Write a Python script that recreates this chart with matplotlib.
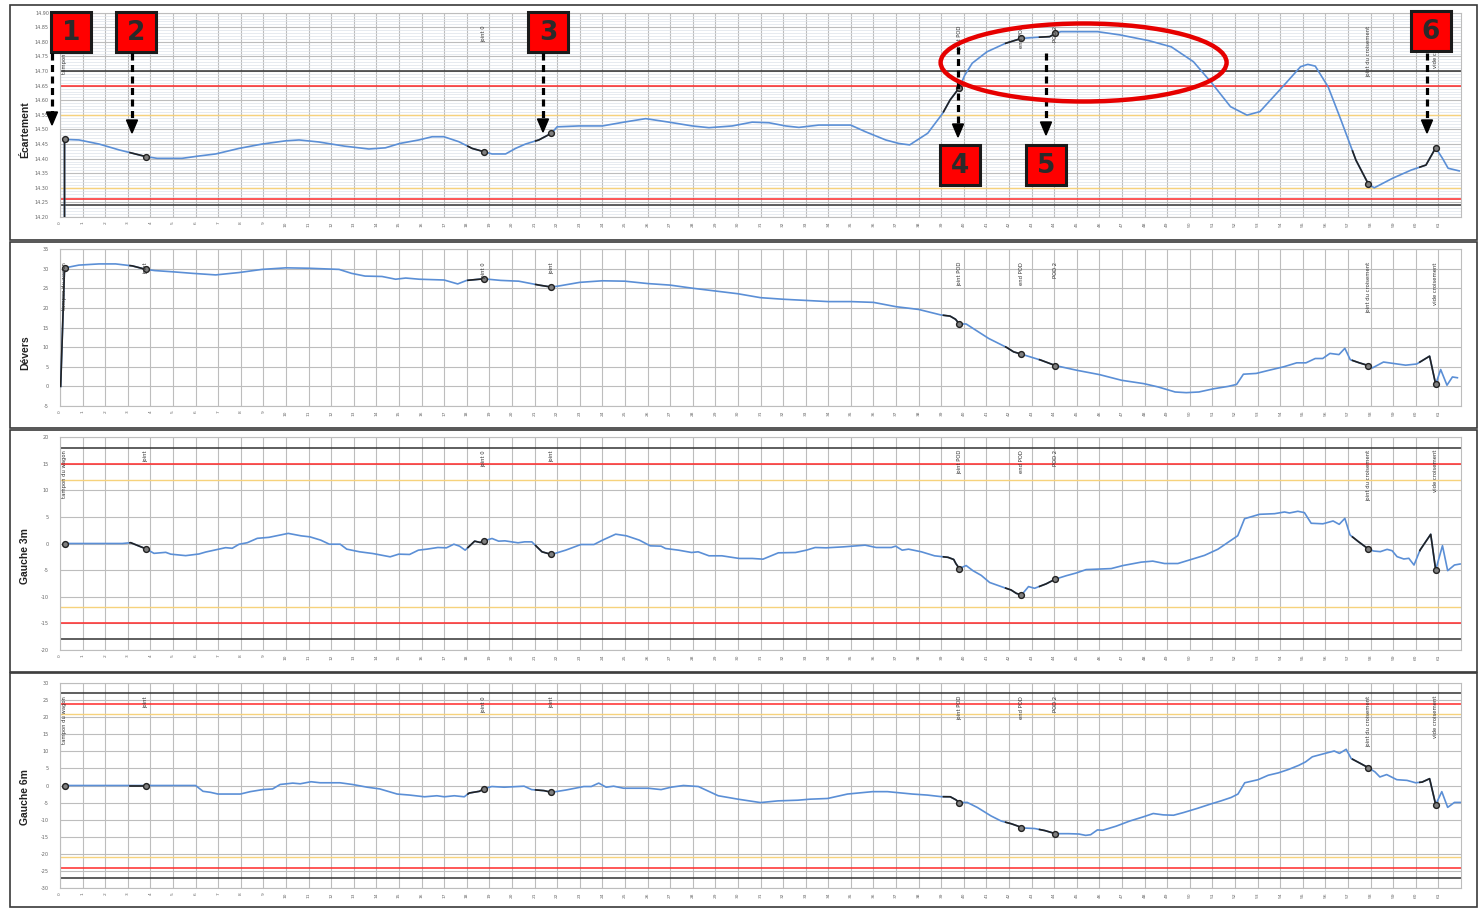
import numpy as np
import matplotlib.pyplot as plt
from matplotlib.patches import Rectangle, Ellipse, Polygon

# Track geometry record: gauge, cant and twist over 3 m / 6 m bases
W, H = 1479, 908

# Positions of the track events (same x unit as the curves)
event_x = [0.2, 3.8, 18.75, 21.75, 39.8, 42.55, 44.05, 57.9, 60.88]
event_names = ["tampon du wagon", "joint", "joint 0", "joint", "joint POD",
               "end POD", "POD 2", "joint du croisement", "vide croisement"]

# Écartement (gauge)
ecart_x = [0.18, 0.2, 0.84, 1.73, 2.61, 3.8, 4.3, 5.4, 6.15, 6.89, 7.92, 8.95, 9.99,
           10.58, 11.46, 12.57, 13.67, 14.4, 15.04, 15.88, 16.47, 16.99, 17.65, 18.24,
           18.75, 19.12, 19.72, 20.16, 20.6, 21.19, 21.75, 22.0, 22.96, 24.0, 25.03,
           25.92, 26.95, 27.98, 28.72, 29.75, 30.63, 31.37, 32.11, 32.7, 33.58, 34.99,
           35.65, 36.54, 37.12, 37.6, 38.4, 39.06, 39.39, 39.8, 40.04, 40.37, 41.02,
           41.84, 42.55, 43.3, 43.8, 44.05, 44.29, 45.92, 46.9, 48.2, 49.18, 50.16,
           50.98, 51.8, 52.53, 53.1, 54.08, 54.9, 55.22, 55.55, 56.12, 56.69, 57.35,
           57.9, 58.16, 58.98, 59.8, 60.45, 60.88, 61.18, 61.43, 61.92]
ecart_y = [0.0, 14.466, 14.464, 14.450, 14.430, 14.407, 14.401, 14.401, 14.409, 14.416,
           14.435, 14.450, 14.461, 14.464, 14.457, 14.443, 14.433, 14.437, 14.452,
           14.464, 14.475, 14.475, 14.458, 14.435, 14.424, 14.416, 14.416, 14.435,
           14.450, 14.464, 14.487, 14.509, 14.512, 14.512, 14.526, 14.537, 14.525,
           14.512, 14.506, 14.512, 14.525, 14.523, 14.512, 14.507, 14.515, 14.515,
           14.492, 14.464, 14.452, 14.447, 14.487, 14.555, 14.601, 14.643, 14.686,
           14.727, 14.766, 14.795, 14.812, 14.816, 14.818, 14.829, 14.835, 14.835,
           14.824, 14.804, 14.783, 14.732, 14.658, 14.578, 14.549, 14.561, 14.644,
           14.715, 14.723, 14.717, 14.646, 14.532, 14.395, 14.313, 14.300, 14.333,
           14.361, 14.378, 14.437, 14.401, 14.367, 14.358]

# Dévers (cant)
devers_x = [0.03, 0.2, 0.4, 0.84, 1.73, 2.46, 3.2, 3.8, 4.2, 4.97, 5.86, 6.89, 7.92, 8.94,
            10.0, 11.0, 12.35, 12.9, 13.5, 14.25, 14.85, 15.3, 15.9, 17.0, 17.6, 18.0,
            18.75, 19.5, 20.3, 21.2, 21.75, 22.1, 23.0, 24.0, 25.0, 26.0, 27.0, 28.0,
            29.0, 30.0, 31.0, 32.0, 33.0, 34.0, 35.0, 36.0, 37.0, 38.0, 38.98, 39.39,
            39.63, 39.8, 40.1, 41.1, 41.9, 42.2, 42.55, 43.4, 44.05, 45.0, 46.0, 46.98,
            47.96, 48.6, 49.35, 49.84, 50.4, 51.06, 51.7, 52.07, 52.37, 52.94, 53.5,
            54.16, 54.73, 55.14, 55.55, 55.88, 56.2, 56.6, 56.86, 57.1, 57.5, 57.9,
            58.08, 58.57, 59.06, 59.55, 60.04, 60.61, 60.88, 61.1, 61.38, 61.62, 61.84]
devers_y = [0.0, 30.2, 30.4, 30.9, 31.2, 31.2, 30.7, 29.8, 29.5, 29.2, 28.8, 28.4, 29.0,
            29.8, 30.2, 30.1, 29.8, 28.8, 28.1, 28.0, 27.3, 27.6, 27.3, 27.1, 26.1, 27.0,
            27.4, 27.0, 26.8, 25.8, 25.3, 25.6, 26.5, 26.9, 26.8, 26.2, 25.8, 25.0, 24.3,
            23.6, 22.6, 22.2, 21.9, 21.6, 21.6, 21.4, 20.3, 19.6, 18.2, 17.9, 17.1, 15.9,
            15.9, 12.2, 9.9, 8.8, 8.2, 6.7, 5.3, 4.1, 3.0, 1.55, 0.7, -0.15, -1.43, -1.6,
            -1.43, -0.6, 0.0, 0.5, 3.1, 3.3, 4.1, 5.0, 6.0, 6.0, 7.1, 7.1, 8.4, 8.1, 9.7,
            6.8, 6.0, 5.3, 4.7, 6.2, 5.8, 5.4, 5.7, 7.7, 0.5, 4.3, 0.3, 2.4, 2.2]

# Gauche 3m (twist, 3 m base)
g3_x = [0.2, 2.76, 3.13, 3.8, 4.16, 4.68, 4.9, 5.56, 6.15, 6.45, 7.33, 7.62, 7.92, 8.29,
        8.73, 9.25, 9.77, 10.1, 10.67, 11.06, 11.54, 11.92, 12.4, 12.69, 13.26, 13.84,
        14.22, 14.61, 14.99, 15.47, 15.86, 16.24, 16.72, 17.1, 17.43, 17.68, 17.93,
        18.35, 18.6, 18.75, 19.12, 19.41, 19.69, 20.27, 20.56, 20.88, 21.33, 21.75,
        22.38, 23.05, 23.63, 24.01, 24.59, 25.07, 25.64, 26.12, 26.6, 26.8, 27.37,
        27.95, 28.24, 28.72, 29.29, 30.06, 30.64, 31.11, 31.79, 32.55, 33.03, 33.42,
        33.9, 34.67, 35.63, 36.12, 36.79, 36.98, 37.27, 37.55, 38.12, 38.7, 39.3,
        39.55, 39.65, 39.8, 40.1, 40.4, 40.77, 41.14, 41.65, 42.09, 42.32, 42.55,
        42.86, 43.13, 43.64, 44.05, 44.53, 44.97, 45.41, 46.08, 46.52, 47.04, 47.85,
        48.36, 48.88, 49.47, 50.06, 50.65, 51.24, 51.68, 52.12, 52.42, 53.08, 53.75,
        54.19, 54.41, 54.78, 55.07, 55.37, 55.89, 56.34, 56.61, 56.86, 57.09, 57.46,
        57.9, 58.13, 58.43, 58.73, 58.95, 59.17, 59.47, 59.69, 59.92, 60.19, 60.44,
        60.66, 60.88, 61.18, 61.41, 61.71, 61.96]
g3_y = [0.0, 0.0, 0.15, -1.0, -1.85, -1.66, -2.0, -2.28, -1.97, -1.6, -0.78, -0.9, -0.15,
        0.15, 0.97, 1.16, 1.6, 1.9, 1.44, 1.25, 0.63, -0.13, -0.13, -1.06, -1.56, -1.88,
        -2.19, -2.5, -2.0, -2.06, -1.25, -1.06, -0.75, -0.81, -0.13, -0.5, -1.25, 0.44,
        0.19, 0.5, 0.94, 0.44, 0.5, 0.13, 0.31, 0.31, -1.56, -2.06, -1.25, -0.19, -0.19,
        0.63, 1.75, 1.44, 0.63, -0.44, -0.5, -0.94, -1.25, -1.69, -1.56, -2.31, -2.31,
        -2.81, -2.81, -2.94, -1.75, -1.69, -1.25, -0.75, -0.81, -0.63, -0.31, -0.75,
        -0.75, -0.5, -1.25, -1.06, -1.56, -2.31, -2.6, -3.0, -3.8, -4.7, -4.14, -5.1,
        -5.99, -7.32, -8.09, -8.73, -9.36, -9.68, -8.09, -8.41, -7.58, -6.69, -6.05,
        -5.54, -4.9, -4.78, -4.71, -4.14, -3.5, -3.31, -3.76, -3.76, -2.99, -2.23,
        -1.08, 0.19, 1.46, 4.65, 5.48, 5.6, 5.92, 5.73, 6.05, 5.8, 3.8, 3.7, 4.23, 3.6,
        4.72, 1.6, 0.35, -1.03, -1.41, -1.53, -1.1, -1.35, -2.47, -2.91, -2.78, -4.04,
        -1.22, 0.35, 1.73, -4.98, -0.41, -5.1, -4.04, -3.85]

# Gauche 6m (twist, 6 m base)
g6_x = [0.2, 3.8, 6.0, 6.33, 6.66, 6.99, 7.98, 8.42, 8.97, 9.41, 9.74, 10.3, 10.63,
        11.11, 11.51, 12.39, 12.94, 13.6, 14.15, 14.92, 15.47, 16.13, 16.68, 17.01,
        17.45, 17.89, 18.11, 18.56, 18.75, 19.11, 19.66, 20.54, 20.87, 21.42, 21.75,
        22.41, 23.18, 23.51, 23.84, 24.17, 24.5, 24.94, 26.04, 26.6, 27.04, 27.59,
        28.25, 29.13, 30.0, 31.0, 31.77, 32.65, 33.2, 33.97, 34.85, 35.96, 36.62,
        37.72, 38.38, 39.0, 39.4, 39.65, 39.8, 40.15, 40.6, 41.2, 41.65, 42.1, 42.4,
        42.55, 43.14, 43.59, 44.05, 44.64, 45.09, 45.39, 45.61, 45.91, 46.14, 46.74,
        47.34, 47.93, 48.38, 48.83, 49.28, 49.73, 50.33, 50.93, 51.38, 51.83, 52.13,
        52.43, 53.02, 53.47, 53.92, 54.37, 54.82, 55.12, 55.42, 55.87, 56.39, 56.62,
        56.92, 57.14, 57.51, 57.9, 58.19, 58.41, 58.71, 59.16, 59.61, 59.99, 60.28,
        60.61, 60.88, 61.15, 61.41, 61.71, 62.0]
g6_y = [0.0, 0.0, 0.0, -1.7, -2.0, -2.5, -2.5, -1.8, -1.2, -1.0, 0.3, 0.7, 0.5, 1.1, 0.8,
        0.8, 0.3, -0.5, -1.0, -2.5, -2.8, -3.3, -3.0, -3.3, -3.0, -3.3, -2.2, -1.7,
        -1.0, -0.3, -0.5, -0.2, -1.2, -1.5, -2.0, -1.3, -0.3, -0.3, 0.7, -0.5, -0.2,
        -0.8, -0.8, -1.2, -0.5, 0.0, -0.3, -3.0, -4.0, -5.0, -4.5, -4.3, -4.0, -3.8,
        -2.5, -1.8, -1.8, -2.5, -2.8, -3.27, -3.3, -4.2, -5.0, -4.95, -6.44, -8.9,
        -10.4, -11.2, -11.9, -12.4, -12.6, -13.2, -14.1, -14.1, -14.2, -14.6, -14.4,
        -13.0, -13.1, -11.9, -10.4, -9.2, -8.2, -8.6, -8.7, -7.9, -6.7, -5.4, -4.5,
        -3.5, -2.5, 0.8, 1.7, 3.0, 3.7, 4.7, 5.9, 6.9, 8.4, 9.2, 10.1, 9.4, 10.6, 7.9,
        6.6, 5.2, 4.0, 2.5, 3.2, 1.7, 1.5, 0.8, 1.0, 2.0, -5.6, -1.8, -6.4, -4.95, -4.95]

# Tolerance levels (black / red / yellow)
ecart_limits = [14.70, 14.24, 14.65, 14.26, 14.55, 14.30]
g3_limits = [18, -18, 15, -15, 12, -12]
g6_limits = [27, -27, 24, -24, 21, -21]

# Callout numbers and where their arrows point
callout_nums = ["1", "2", "3", "4", "5", "6"]

BLUE = "#5b8fd6"
LIMIT_COLORS = ["#333333", "#333333", "#ff2a2a", "#ff2a2a", "#f6d27c", "#f6d27c"]


def px_rect(left, top, right, bottom):
    return [left / W, 1 - bottom / H, (right - left) / W, (bottom - top) / H]


def near_segment(xs, ys, a, b):
    xs = np.asarray(xs)
    ys = np.asarray(ys)
    a = max(a, xs[0])
    inside = (xs > a) & (xs < b)
    sx = np.concatenate([[a], xs[inside], [b]])
    return sx, np.interp(sx, xs, ys)


fig = plt.figure(figsize=(W / 100, H / 100), dpi=100)

panels = [
    # label, x, y, ylim, yticks, tick format, limits, frame (top, bottom), axes (top, bottom), label centre
    ("Écartement", ecart_x, ecart_y, (14.20, 14.90), np.arange(14.20, 14.901, 0.05), "{:.2f}",
     ecart_limits, (5, 240), (12.7, 217), 130),
    ("Dévers", devers_x, devers_y, (-5, 35), np.arange(-5, 36, 5), "{:.0f}",
     None, (242, 428), (249, 406), 353),
    ("Gauche 3m", g3_x, g3_y, (-20, 20), np.arange(-20, 21, 5), "{:.0f}",
     g3_limits, (430, 672), (437, 650), 556),
    ("Gauche 6m", g6_x, g6_y, (-30, 30), np.arange(-30, 31, 5), "{:.0f}",
     g6_limits, (673, 907), (683, 888), 797),
]

for i, (label, xs, ys, ylim, yticks, fmt, limits, frame, box, label_y) in enumerate(panels):
    # outer frame of the panel
    fig.add_artist(Rectangle((10 / W, 1 - frame[1] / H), 1467 / W, (frame[1] - frame[0]) / H,
                             transform=fig.transFigure, fill=False, ec="#3a3a3a", lw=1.2))

    ax = fig.add_axes(px_rect(60, box[0], 1461, box[1]))
    ax.set_xlim(0, 62)
    ax.set_ylim(*ylim)
    ax.set_xticks(range(0, 62))
    ax.set_xticklabels([str(k) for k in range(0, 62)], rotation=90, fontsize=3.2, color="#666666")
    ax.set_yticks(yticks)
    ax.set_yticklabels([fmt.format(t) for t in yticks], fontsize=3.5, color="#666666")
    ax.tick_params(length=0, pad=3)
    ax.tick_params(axis="y", pad=8)
    if i == 0:
        ax.set_yticks(np.arange(14.20, 14.90, 0.01), minor=True)
        ax.tick_params(which="minor", length=0)
        ax.grid(True, which="minor", axis="y", color="#dde3ea", lw=0.5)
    ax.grid(True, which="major", color="#bdbdbd", lw=0.8)
    ax.set_axisbelow(True)
    for sp in ax.spines.values():
        sp.set_color("#bdbdbd")
        sp.set_linewidth(0.8)

    if limits is not None:
        for lim, col in zip(limits, LIMIT_COLORS):
            ax.axhline(lim, color=col, lw=1.1 if col != "#f6d27c" else 1.0, zorder=2)

    ax.plot(xs, ys, color=BLUE, lw=1.2, zorder=3)

    # stretch leading into each event drawn in black, plus the event marker
    for ex in event_x:
        sx, sy = near_segment(xs, ys, ex - 0.7, ex)
        ax.plot(sx, sy, color="#222222", lw=1.2, zorder=4)
    ev_y = np.interp(event_x, xs, ys)
    ax.plot(event_x, ev_y, "o", ms=4.2, mfc="#808080", mec="#222222", mew=1.0, ls="none", zorder=5)

    # event names, written vertically near the top of the plot
    h_px = box[1] - box[0]
    for ex, name in zip(event_x, event_names):
        ax.text(ex, 1 - 13 / h_px, name, transform=ax.get_xaxis_transform(), rotation=90,
                ha="center", va="top", fontsize=3.8, color="#333333", zorder=6)

    fig.text(25 / W, 1 - label_y / H, label, rotation=90, ha="center", va="center",
             fontsize=7.5, fontweight="bold", family="Liberation Sans", color="#222222")

# -------------------------------
# Callouts on top of the gauge panel
# -------------------------------
ov = fig.add_axes([0, 0, 1, 1])
ov.set_xlim(0, W)
ov.set_ylim(H, 0)
ov.axis("off")
ov.patch.set_alpha(0)

box_pos = [(51, 12), (116, 12), (528, 12), (940, 145), (1026, 145), (1411, 11)]
arrow_x = [52, 132, 543, 958, 1046, 1427]
arrow_top = [53, 53, 53, 47, 53, 53]
arrow_tip = [125, 133, 132, 137, 135, 133]

for num, (bx, by) in zip(callout_nums, box_pos):
    ov.add_patch(Rectangle((bx, by), 40, 40, fc="#ff0000", ec="#1a1a1a", lw=2.2, zorder=10))
    ov.text(bx + 20, by + 21, num, ha="center", va="center", fontsize=19,
            fontweight="bold", color="#2a2a2a", zorder=11)

for x, y0, y1 in zip(arrow_x, arrow_top, arrow_tip):
    ov.plot([x, x], [y0, y1 - 10], color="black", lw=2.3, ls=(0, (2.2, 1.4)), zorder=10)
    ov.add_patch(Polygon([(x - 5.5, y1 - 13), (x + 5.5, y1 - 13), (x, y1)],
                         closed=True, color="black", zorder=10))

ov.add_patch(Ellipse((1083.6, 62.5), 286, 78, fill=False, ec="#e60000", lw=3.2, zorder=10))

fig.savefig("out.png", dpi=100, facecolor="white")
